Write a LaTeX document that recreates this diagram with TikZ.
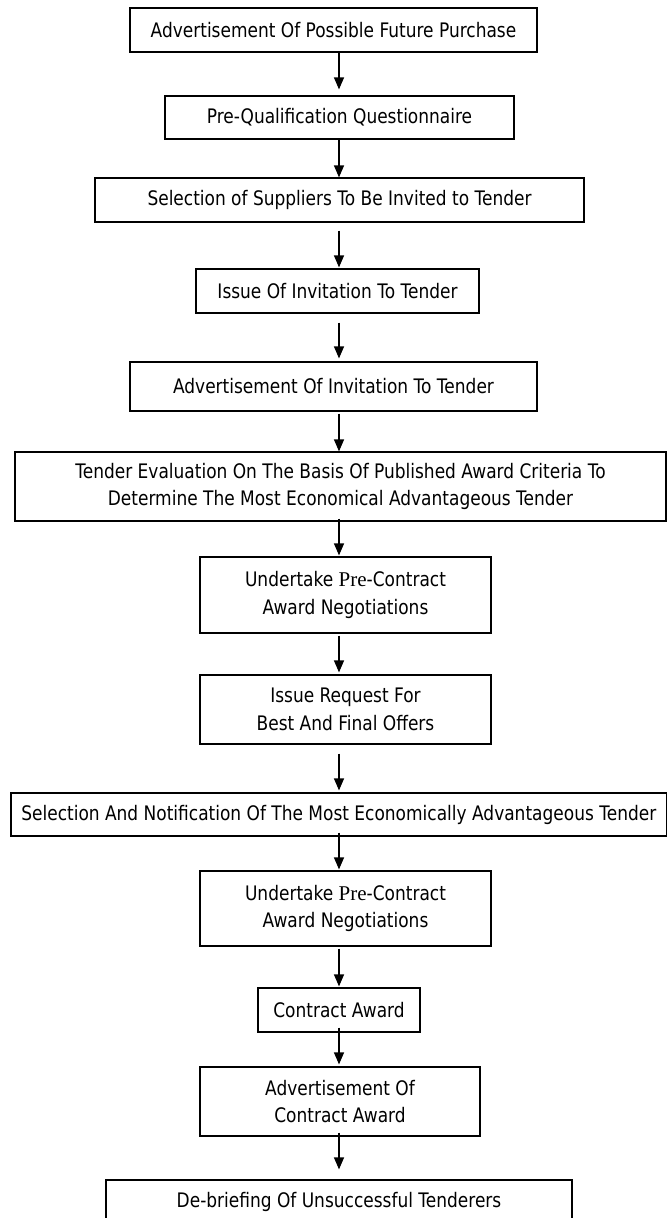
\documentclass[tikz,border=0pt]{standalone}
\usepackage{fontspec}
\setmainfont{DejaVu Sans}[FakeStretch=0.85]
\newfontfamily\serfont{Liberation Serif}
\usetikzlibrary{arrows.meta}
\tikzset{
  box/.style={draw, line width=1.2pt, inner sep=0pt, align=center,
    font=\fontsize{20}{27.5}\selectfont},
  arr/.style={line width=1.2pt, -{Triangle[width=10pt,length=12pt]}}
}
\newcommand{\prefix}{{\fontsize{21}{27.5}\selectfont\serfont Pre}}
\begin{document}
\begin{tikzpicture}[x=1pt,y=-1pt]
\useasboundingbox (0,0) rectangle (668,1218);
\clip (0,0) rectangle (668,1218);
\coordinate (ax) at (339,0);
\node[box, minimum width=407pt, minimum height=44pt] (b1) at (333.5,30) {Advertisement Of Possible Future Purchase};
\node[box, minimum width=349pt, minimum height=43pt] (b2) at (339.5,117.5) {Pre-Qualification Questionnaire};
\node[box, minimum width=489pt, minimum height=44pt] (b3) at (339.5,200) {Selection of Suppliers To Be Invited to Tender};
\node[box, minimum width=283pt, minimum height=44pt] (b4) at (337.5,291) {Issue Of Invitation To Tender};
\node[box, minimum width=407pt, minimum height=49pt] (b5) at (333.5,386.5) {Advertisement Of Invitation To Tender};
\node[box, minimum width=651pt, minimum height=69pt] (b6) at (340.5,486.5) {Tender Evaluation On The Basis Of Published Award Criteria To\\Determine The Most Economical Advantageous Tender};
\node[box, minimum width=291pt, minimum height=76pt] (b7) at (345.5,595) {Undertake \prefix-Contract\\Award Negotiations};
\node[box, minimum width=291pt, minimum height=69pt] (b8) at (345.5,709.5) {Issue Request For\\Best And Final Offers};
\node[box, minimum width=655.5pt, minimum height=43pt] (b9) at (338.75,814.5) {Selection And Notification Of The Most Economically Advantageous Tender};
\node[box, minimum width=291pt, minimum height=75pt] (b10) at (345.5,908.5) {Undertake \prefix-Contract\\Award Negotiations};
\node[box, minimum width=162pt, minimum height=44pt] (b11) at (339,1010) {Contract Award};
\node[box, minimum width=280pt, minimum height=69pt] (b12) at (340,1101.5) {Advertisement Of\\Contract Award};
\node[box, minimum width=466pt, minimum height=44pt] (b13) at (339,1202) {De-briefing Of Unsuccessful Tenderers};
\draw[arr, shorten >=6pt] (b1.south -| ax) -- (b2.north -| ax);
\draw[arr] (b2.south -| ax) -- (b3.north -| ax);
\draw[arr, shorten <=8pt, shorten >=1pt] (b3.south -| ax) -- (b4.north -| ax);
\draw[arr, shorten <=9pt, shorten >=3pt] (b4.south -| ax) -- (b5.north -| ax);
\draw[arr, shorten <=2pt] (b5.south -| ax) -- (b6.north -| ax);
\draw[arr, shorten <=-3pt, shorten >=1pt] (b6.south -| ax) -- (b7.north -| ax);
\draw[arr, shorten <=2pt, shorten >=2pt] (b7.south -| ax) -- (b8.north -| ax);
\draw[arr, shorten <=9pt, shorten >=2pt] (b8.south -| ax) -- (b9.north -| ax);
\draw[arr, shorten <=-4pt, shorten >=1pt] (b9.south -| ax) -- (b10.north -| ax);
\draw[arr, shorten <=2pt, shorten >=1pt] (b10.south -| ax) -- (b11.north -| ax);
\draw[arr, shorten <=-5pt, shorten >=2pt] (b11.south -| ax) -- (b12.north -| ax);
\draw[arr, shorten <=-4pt, shorten >=10pt] (b12.south -| ax) -- (b13.north -| ax);
\end{tikzpicture}
\end{document}
